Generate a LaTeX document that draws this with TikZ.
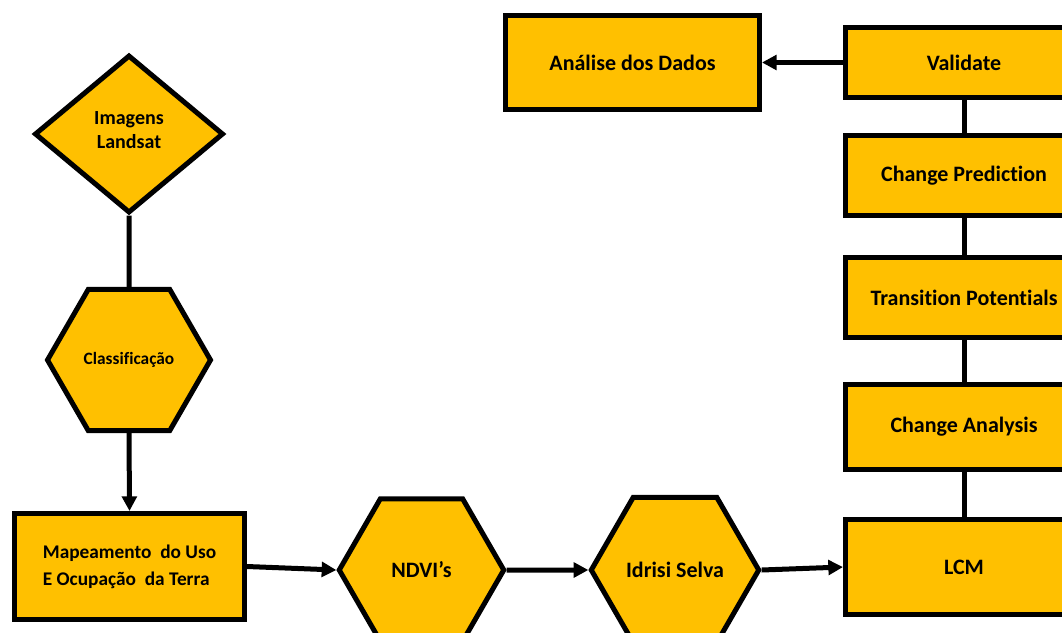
\documentclass[tikz,border=0pt]{standalone}
\usepackage{fontspec}
\setmainfont{Carlito}[Ligatures=NoCommon]
\usepackage{tikz}
\usetikzlibrary{shapes.geometric,arrows.meta}
\definecolor{gold}{HTML}{FFC000}

\begin{document}
\begin{tikzpicture}[x=0.75pt,y=-0.75pt,line width=3.75pt,
    >={Triangle[length=11pt,width=11pt]},
    proc/.style={draw=black,fill=gold,rectangle,inner sep=0pt,
      font=\fontsize{16.5}{19}\selectfont\bfseries},
    hexa/.style={draw=black,fill=gold,regular polygon,regular polygon sides=6,
      inner sep=0pt,font=\fontsize{16.5}{19}\selectfont\bfseries},
    dia/.style={draw=black,fill=gold,diamond,inner sep=0pt,align=center,
      font=\fontsize{15}{17.5}\selectfont\bfseries}]
  \useasboundingbox (0,0) rectangle (1062,632);

  % left column
  \node[dia,minimum width=141.75pt,minimum height=118.5pt,text depth=6pt] (land) at (129,134) {Imagens\\Landsat};
  \node[hexa,minimum size=122.25pt,font=\fontsize{13}{15}\selectfont\bfseries] (class) at (129,360) {Classificação};
  \node[proc,minimum width=172.5pt,minimum height=79.5pt,align=left,
    font=\fontsize{14.5}{20}\selectfont\bfseries] (map) at (129.5,566.5)
    {Mapeamento\ \ do Uso\\E Ocupação\ \ da Terra};

  % bottom row
  \node[hexa,minimum size=123.4pt] (ndvi) at (421.5,570) {NDVI’s};
  \node[hexa,minimum size=125.6pt] (idrisi) at (675,570) {Idrisi Selva};

  % right column
  \node[proc,minimum width=177.75pt,minimum height=71.25pt] (lcm) at (964,567) {LCM};
  \node[proc,minimum width=177.75pt,minimum height=63.75pt] (chan) at (964,427) {Change Analysis};
  \node[proc,minimum width=177.75pt,minimum height=60pt] (trans) at (964,297.5) {Transition Potentials};
  \node[proc,minimum width=177.75pt,minimum height=60pt] (pred) at (964,175.5) {Change Prediction};
  \node[proc,minimum width=177.75pt,minimum height=52.5pt] (val) at (964,62.5) {Validate};
  \node[proc,minimum width=190.5pt,minimum height=70.5pt] (dados) at (632.5,62.5) {Análise dos Dados};

  \draw (land.south) -- (class.north);
  \draw[->] (class.south) -- (map.north);
  \draw[->] (map.east) -- (ndvi.west);
  \draw[->] (ndvi.east) -- (idrisi.west);
  \draw[->] (idrisi.east) -- (lcm.west);
  \draw (lcm.north) -- (chan.south);
  \draw (chan.north) -- (trans.south);
  \draw (trans.north) -- (pred.south);
  \draw (pred.north) -- (val.south);
  \draw[->] (val.west) -- (dados.east);
\end{tikzpicture}
\end{document}
